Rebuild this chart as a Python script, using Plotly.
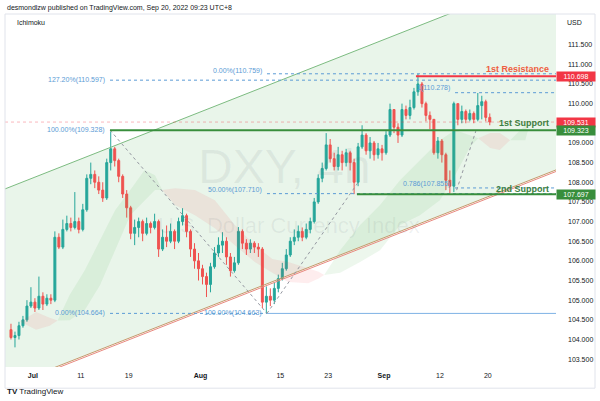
import plotly.graph_objects as go
import pandas as pd

FONT = "Liberation Sans, Arial, sans-serif"

# ---------------- data ----------------
first_day, axis_last_day = "2022-06-28", "2022-09-30"

# 12-hour candles, two per trading day from Jun 28 to Sep 20 (last one partial)
opens = [104.25, 104.05, 104.10, 104.35, 104.50, 104.85, 104.95, 104.80, 105.10, 104.90,
         105.05, 105.00, 106.60, 106.35, 106.80, 106.95, 106.85, 107.00, 106.80, 107.30,
         108.10, 108.20, 108.00, 107.80, 107.60, 108.50, 108.85, 108.55, 108.15, 107.70,
         107.35, 106.70, 106.85, 107.00, 106.70, 106.95, 106.85, 107.00, 106.30, 106.60,
         106.50, 106.75, 106.50, 107.00, 107.15, 106.75, 106.30, 106.00, 105.80, 105.60,
         105.40, 105.85, 106.20, 106.40, 106.50, 106.10, 105.75, 105.95, 106.75, 106.45,
         106.30, 106.45, 106.35, 106.30, 104.95, 105.10, 105.00, 105.30, 105.55, 105.80,
         106.15, 106.50, 106.60, 106.75, 106.60, 106.80, 107.00, 107.50, 108.10, 108.35,
         108.95, 108.60, 108.40, 108.70, 108.50, 108.75, 108.50, 108.00, 108.90, 109.20,
         108.80, 109.00, 108.70, 108.85, 108.75, 109.20, 109.85, 109.40, 109.20, 109.85,
         109.70, 109.90, 110.30, 110.50, 110.00, 109.70, 109.60, 108.75, 109.05, 108.70,
         108.05, 107.90, 110.00, 109.60, 109.80, 109.60, 109.75, 109.60, 109.95, 110.05,
         109.65]
highs = [104.40, 104.20, 104.45, 104.60, 105.00, 105.33, 105.05, 105.60, 105.20, 105.15,
         105.15, 106.75, 106.70, 107.05, 107.15, 107.10, 107.75, 107.10, 107.45, 108.20,
         108.50, 108.30, 108.15, 108.00, 108.60, 109.29, 108.90, 108.60, 108.20, 107.80,
         107.40, 107.05, 107.10, 107.05, 107.10, 107.00, 107.20, 107.05, 106.80, 106.90,
         106.95, 106.80, 107.10, 107.34, 107.20, 106.80, 106.45, 106.20, 105.90, 105.70,
         105.95, 106.35, 106.60, 106.73, 106.60, 106.20, 106.10, 106.86, 106.80, 106.55,
         106.55, 106.50, 106.45, 106.35, 105.35, 105.30, 105.45, 105.65, 105.95, 106.30,
         106.60, 106.80, 106.90, 106.85, 106.95, 107.10, 107.60, 108.20, 108.50, 109.25,
         109.10, 108.75, 108.90, 108.80, 108.85, 108.80, 108.60, 109.00, 109.45, 109.25,
         109.15, 109.05, 109.00, 108.95, 109.30, 110.00, 109.85, 109.50, 110.00, 109.95,
         110.10, 110.40, 110.759, 110.55, 110.05, 109.80, 109.60, 109.15, 109.10, 108.75,
         108.30, 110.05, 110.00, 109.95, 109.85, 109.85, 109.80, 110.27, 110.20, 110.10,
         109.75]
lows = [104.00, 103.80, 104.00, 104.30, 104.45, 104.80, 104.70, 104.75, 104.75, 104.85,
        104.90, 104.95, 106.30, 106.30, 106.75, 106.75, 106.80, 106.70, 106.75, 107.25,
        107.95, 107.85, 107.70, 107.50, 107.55, 108.30, 108.40, 108.00, 107.60, 107.10,
        106.55, 106.40, 106.60, 106.50, 106.65, 106.70, 106.80, 106.10, 106.25, 106.35,
        106.45, 106.30, 106.45, 106.90, 106.60, 106.10, 105.80, 105.50, 105.40, 105.08,
        105.20, 105.80, 106.10, 106.20, 105.90, 105.60, 105.70, 105.90, 106.30, 106.15,
        106.20, 106.20, 106.10, 104.80, 104.663, 104.85, 104.90, 105.20, 105.50, 105.75,
        106.10, 106.40, 106.50, 106.50, 106.55, 106.70, 106.95, 107.45, 108.00, 108.30,
        108.50, 108.30, 108.30, 108.30, 108.40, 108.30, 107.697, 107.90, 108.85, 108.70,
        108.60, 108.55, 108.60, 108.55, 108.70, 109.15, 109.25, 109.00, 109.15, 109.60,
        109.60, 109.85, 110.20, 109.90, 109.55, 109.35, 108.70, 108.60, 108.50, 107.80,
        107.72, 107.75, 109.45, 109.50, 109.50, 109.55, 109.50, 109.55, 109.60, 109.55,
        109.45]
closes = [104.05, 104.10, 104.35, 104.50, 104.85, 104.95, 104.80, 105.10, 104.90, 105.05,
          105.00, 106.60, 106.35, 106.80, 106.95, 106.85, 107.00, 106.80, 107.30, 108.10,
          108.20, 108.00, 107.80, 107.60, 108.50, 108.85, 108.55, 108.15, 107.70, 107.35,
          106.70, 106.85, 107.00, 106.70, 106.95, 106.85, 107.00, 106.30, 106.60, 106.50,
          106.75, 106.50, 107.00, 107.15, 106.75, 106.30, 106.00, 105.80, 105.60, 105.40,
          105.85, 106.20, 106.40, 106.50, 106.10, 105.75, 105.95, 106.75, 106.45, 106.30,
          106.45, 106.35, 106.30, 104.95, 105.10, 105.00, 105.30, 105.55, 105.80, 106.15,
          106.50, 106.60, 106.75, 106.60, 106.80, 107.00, 107.50, 108.10, 108.35, 108.95,
          108.60, 108.40, 108.70, 108.50, 108.75, 108.50, 108.00, 108.90, 109.20, 108.80,
          109.00, 108.70, 108.85, 108.75, 109.20, 109.85, 109.40, 109.20, 109.85, 109.70,
          109.90, 110.30, 110.50, 110.00, 109.70, 109.60, 108.75, 109.05, 108.70, 108.05,
          107.90, 110.00, 109.60, 109.80, 109.60, 109.75, 109.60, 109.95, 110.05, 109.65,
          109.531]

# Ichimoku cloud (positions in trading days from Jun 28)
cloud_pos = [1.4, 3.4, 5.1, 6.1, 7.6, 9.5, 11.4, 13.3, 15.2, 17.0, 18.3, 19.2, 20.8, 23.3,
             25.8, 28.3, 30.8, 33.0, 35.0, 37.5, 38.8, 39.5, 41.5, 44.0, 46.5, 49.0, 51.5,
             54.0, 55.9, 57.8, 58.8, 60.3, 61.5, 62.8, 64.7, 65.0]
span_a = [104.45, 104.25, 104.35, 104.48, 105.13, 105.76, 106.53, 107.29, 107.80, 108.31,
          108.18, 107.80, 107.42, 107.16, 106.83, 106.40, 105.97, 105.70, 105.46, 105.43,
          105.55, 105.64, 106.27, 106.91, 107.42, 108.05, 108.56, 109.07, 109.33, 109.20,
          109.12, 108.87, 108.82, 109.07, 109.45, 109.30]
span_b = [104.45, 104.70, 104.55, 104.48, 104.49, 104.75, 105.38, 106.27, 107.16, 107.54,
          107.80, 107.80, 107.85, 107.80, 107.54, 106.91, 106.40, 106.05, 105.97, 105.81,
          105.72, 105.64, 105.70, 105.97, 106.27, 106.91, 107.16, 107.54, 108.18, 108.90,
          109.12, 109.25, 109.25, 109.07, 109.07, 109.30]

tick_dates = ["2022-07-01", "2022-07-11", "2022-07-19", "2022-08-01", "2022-08-15",
              "2022-08-23", "2022-09-01", "2022-09-12", "2022-09-20"]
tick_labels = ["<b>Jul</b>", "11", "19", "<b>Aug</b>", "15", "23", "<b>Sep</b>", "12", "20"]
price_ticks = [103.5, 104.0, 104.5, 105.0, 105.5, 106.0, 106.5, 107.0, 107.5, 108.0,
               108.5, 109.0, 110.0, 110.5, 111.0, 111.5]

# drawings (x in trading days from Jun 28, y in price)
channel_upper = [(0.0, 107.87), (60.0, 112.67)]
channel_lower = [(0.0, 102.83), (60.0, 107.63)]
fib1_start, fib1_end = 12.66, 32.33
fib2_start, fib2_end = 32.33, 43.7
fib3_start = 55.9
fib1_levels = [("127.20%", 110.597), ("100.00%", 109.328), ("0.00%", 104.664)]
fib2_levels = [("0.00%", 110.759), ("50.00%", 107.710), ("100.00%", 104.663)]
fib3_levels = [("1", 110.278), ("0.786", 107.855)]
resistance_1 = 110.698
support_1 = 109.323
support_2 = 107.697
resistance_start, support_1_start, support_2_start = 51.0, 12.66, 43.6
last_price = 109.531

# ---------------- figure ----------------
cal = pd.bdate_range(first_day, axis_last_day)
day_index = {d.strftime("%Y-%m-%d"): i for i, d in enumerate(cal)}
X_MIN, X_MAX = -0.5, 68.55
Y_MIN, Y_MAX = 103.30, 112.28

candle_x = [i // 2 + (0.25 if i % 2 == 0 else 0.75) for i in range(len(closes))]

fig = go.Figure()

# cloud segments
cuts = [i for i in range(len(cloud_pos)) if abs(span_a[i] - span_b[i]) < 1e-9]
for s, e in zip(cuts[:-1], cuts[1:]):
    bull = span_a[s + 1] > span_b[s + 1]
    xs = cloud_pos[s:e + 1] + cloud_pos[s:e + 1][::-1]
    ys = span_a[s:e + 1] + span_b[s:e + 1][::-1]
    fig.add_trace(go.Scatter(
        x=xs, y=ys, mode="lines", fill="toself", line=dict(width=0),
        fillcolor="rgba(76,175,80,0.10)" if bull else "rgba(242,54,69,0.09)",
        hoverinfo="skip", showlegend=False))

fig.add_trace(go.Candlestick(
    x=candle_x, open=opens, high=highs, low=lows, close=closes,
    increasing=dict(line=dict(color="#26a69a", width=1), fillcolor="#26a69a"),
    decreasing=dict(line=dict(color="#ef5350", width=1), fillcolor="#ef5350"),
    whiskerwidth=0, showlegend=False, hoverinfo="skip"))

shapes = []


def line_at(pts, x):
    (x0, y0), (x1, y1) = pts
    return y0 + (y1 - y0) * (x - x0) / (x1 - x0)


# channel fill + lines
shapes.append(dict(type="path", xref="x", yref="y", layer="below",
                   path=f"M {X_MIN},{line_at(channel_upper, X_MIN)} L {X_MAX},{line_at(channel_upper, X_MAX)} "
                        f"L {X_MAX},{line_at(channel_lower, X_MAX)} L {X_MIN},{line_at(channel_lower, X_MIN)} Z",
                   fillcolor="rgba(76,175,80,0.12)", line=dict(width=0)))
shapes.append(dict(type="line", xref="x", yref="y", x0=X_MIN, x1=X_MAX,
                   y0=line_at(channel_upper, X_MIN), y1=line_at(channel_upper, X_MAX),
                   line=dict(color="#7cbb80", width=1)))
shapes.append(dict(type="line", xref="x", yref="y", x0=X_MIN, x1=X_MAX,
                   y0=line_at(channel_lower, X_MIN), y1=line_at(channel_lower, X_MAX),
                   line=dict(color="#c49a6c", width=1)))
shapes.append(dict(type="line", xref="x", yref="y", x0=X_MIN, x1=X_MAX,
                   y0=line_at(channel_lower, X_MIN) - 0.04, y1=line_at(channel_lower, X_MAX) - 0.04,
                   line=dict(color="#e88a80", width=1)))


def hline(y, x0, x1, color, width=1, dash="solid"):
    shapes.append(dict(type="line", xref="x", yref="y", x0=x0, x1=x1, y0=y, y1=y,
                       line=dict(color=color, width=width, dash=dash)))


FIB = "#5b9bd5"
# current price line
hline(last_price, X_MIN, X_MAX, "rgba(242,54,69,0.35)", 1, "dot")
# fib 1
hline(fib1_levels[0][1], fib1_start, X_MAX, FIB, 1, "dot")
hline(fib1_levels[2][1], fib1_start, fib2_start, FIB, 1, "dot")
shapes.append(dict(type="line", xref="x", yref="y", x0=fib1_start, x1=fib1_end,
                   y0=fib1_levels[1][1], y1=fib1_levels[2][1],
                   line=dict(color="#9598a1", width=1, dash="dot")))
# fib 2
hline(fib2_levels[0][1], fib2_start, X_MAX, FIB, 1, "dot")
hline(fib2_levels[1][1], fib2_start, X_MAX, FIB, 1, "dot")
hline(fib2_levels[2][1], fib2_start, X_MAX, "#7fb2e5", 1, "solid")
shapes.append(dict(type="line", xref="x", yref="y", x0=fib2_start, x1=fib2_end,
                   y0=fib2_levels[2][1], y1=107.98,
                   line=dict(color="#9598a1", width=1, dash="dot")))
# fib 3
hline(fib3_levels[0][1], fib3_start, X_MAX, FIB, 1, "dot")
hline(fib3_levels[1][1], fib3_start, X_MAX, FIB, 1, "dot")
shapes.append(dict(type="line", xref="x", yref="y", x0=56.1, x1=58.5,
                   y0=107.80, y1=109.30, line=dict(color="#9598a1", width=1, dash="dot")))
# support / resistance
hline(resistance_1, resistance_start, X_MAX, "#f23645", 2)
hline(support_1, support_1_start, X_MAX, "#388e3c", 2)
hline(support_2, support_2_start, X_MAX, "#388e3c", 2)

# outer frame
shapes.append(dict(type="rect", xref="paper", yref="paper", x0=0, x1=1.0708, y0=-0.06, y1=1.0,
                   line=dict(color="#e0e3eb", width=1)))

ann = []


def fib_label(name, price, x, yshift=0):
    ann.append(dict(x=x, y=price, xref="x", yref="y", text=f"{name}({price:.3f})",
                    xanchor="right", yanchor="middle", xshift=-3, yshift=yshift,
                    showarrow=False, font=dict(size=7, color=FIB, family=FONT)))


fib_label(*fib1_levels[0], fib1_start)
fib_label(*fib1_levels[1], fib1_start)
fib_label(*fib1_levels[2], fib1_start)
fib_label(*fib2_levels[0], fib2_start, 3)
fib_label(*fib2_levels[1], fib2_start, 4)
fib_label(*fib2_levels[2], fib2_start)
fib_label(*fib3_levels[0], fib3_start, 5)
fib_label(*fib3_levels[1], fib3_start, 4)

for text, price, color, ys in [("1st Resistance", resistance_1, "#ef5e42", 7),
                               ("1st Support", support_1, "#3d7f41", 7),
                               ("2nd Support", support_2, "#3d7f41", 5)]:
    ann.append(dict(x=0.991, y=price, xref="paper", yref="y", text=f"<b>{text}</b>",
                    xanchor="right", yanchor="middle", yshift=ys, showarrow=False,
                    font=dict(size=9, color=color, family=FONT)))

for price, color in [(resistance_1, "#f23645"), (last_price, "#f23645"),
                     (support_1, "#388e3c"), (support_2, "#388e3c")]:
    ann.append(dict(x=1.0, y=price, xref="paper", yref="y", text=f"{price:.3f}",
                    xanchor="left", yanchor="middle", showarrow=False, bgcolor=color,
                    borderpad=1, width=36, font=dict(size=7, color="white", family=FONT)))

# watermark
ann.append(dict(x=0.508, y=0.567, xref="paper", yref="paper", text="DXY, 4h",
                showarrow=False, font=dict(size=48, color="rgba(90,100,110,0.09)", family=FONT)))
ann.append(dict(x=0.515, y=0.402, xref="paper", yref="paper", text="U.S. Dollar Currency Index",
                showarrow=False, font=dict(size=22, color="rgba(90,100,110,0.09)", family=FONT)))

# texts around
ann.append(dict(x=0, y=1.017, xref="paper", yref="paper", xanchor="left", yanchor="middle",
                text="desmondlzw published on TradingView.com, Sep 20, 2022 09:23 UTC+8",
                showarrow=False, font=dict(size=7, color="#131722", family=FONT)))
ann.append(dict(x=0.018, y=0.975, xref="paper", yref="paper", xanchor="left", yanchor="middle",
                text="Ichimoku", showarrow=False, font=dict(size=7, color="#131722", family=FONT)))
ann.append(dict(x=1.016, y=0.977, xref="paper", yref="paper", xanchor="left", yanchor="middle",
                text="USD", showarrow=False, font=dict(size=7, color="#131722", family=FONT)))
ann.append(dict(x=0, y=-0.068, xref="paper", yref="paper", xanchor="left", yanchor="middle",
                text="<b>TV</b> TradingView", showarrow=False,
                font=dict(size=8, color="#131722", family=FONT)))

fig.update_layout(
    width=600, height=401,
    margin=dict(l=5, r=44, t=14, b=34),
    paper_bgcolor="white", plot_bgcolor="white",
    shapes=shapes, annotations=ann, showlegend=False,
    xaxis=dict(range=[X_MIN, X_MAX], rangeslider=dict(visible=False),
               tickvals=[day_index[d] for d in tick_dates], ticktext=tick_labels,
               showgrid=False, zeroline=False, showline=False, ticks="",
               tickfont=dict(size=7, color="#131722", family=FONT), ticklabelstandoff=3),
    yaxis=dict(range=[Y_MIN, Y_MAX], side="right", tickvals=price_ticks,
               ticktext=[f"{v:.3f}" for v in price_ticks], showgrid=False, zeroline=False,
               showline=False, ticks="", ticklabelstandoff=11,
               tickfont=dict(size=7, color="#131722", family=FONT)),
)

fig.write_html("out.html", config={"displayModeBar": False},
               post_script="document.body.style.margin='0px';")
